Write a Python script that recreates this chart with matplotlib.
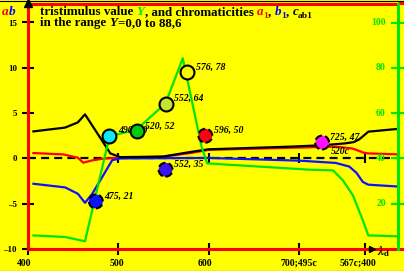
import matplotlib
matplotlib.use('Agg')
import matplotlib.pyplot as plt
from matplotlib.transforms import ScaledTranslation, IdentityTransform, blended_transform_factory
from matplotlib.lines import Line2D

plt.rcParams['font.family'] = ['Liberation Serif', 'DejaVu Serif']
plt.rcParams['font.weight'] = 'bold'
plt.rcParams['mathtext.fontset'] = 'stix'

# chroma c_ab1 (black)
wl_c = [406, 441, 455, 463, 491, 502, 549, 579, 599, 690, 725, 750, 760, 766, 772, 776, 808]
c_ab = [2.98, 3.4, 3.97, 4.86, 0.55, 0.14, 0.2, 0.7, 1.0, 1.3, 1.45, 1.65, 1.8, 2.1, 2.6, 2.95, 3.25]
# chromaticity a1 (red)
wl_a = [406, 439, 455, 461, 471, 483, 496, 550, 580, 600, 700, 740, 758, 764, 770, 776, 808]
a1 = [0.59, 0.44, 0.08, -0.47, -0.22, -0.03, 0.05, 0.2, 0.6, 0.95, 1.2, 1.3, 1.1, 0.9, 0.65, 0.55, 0.45]
# chromaticity b1 (blue)
wl_b = [406, 441, 455, 463, 471, 480, 493, 502, 600, 700, 740, 755, 763, 770, 776, 808]
b1 = [-2.8, -3.2, -3.9, -4.9, -3.9, -2.4, -0.2, 0.0, 0.05, -0.25, -0.5, -0.9, -1.6, -2.6, -2.9, -3.1]
# tristimulus value Y (green, right axis)
wl_Y = [406, 441, 463, 490, 520, 552, 571, 592, 598, 712, 737, 748, 759, 770, 776, 808]
Y = [6.0, 5.3, 3.4, 49.7, 52.8, 64.3, 84.2, 44.9, 37.8, 35.0, 34.7, 30.3, 23.7, 12.6, 6.0, 5.6]

# marked colours
pt_wl = [475, 490, 520, 552, 576, 596, 725, 552]
pt_Y = [21, 50, 52, 64, 78, 50, 47, 35]
pt_col = ['#0a14ff', '#10e8f8', '#00cc10', '#c4e632', '#f8f800', '#ff0010', '#ff10ff', '#3c14f0']
pt_dash = [True, False, False, False, False, True, True, True]
pt_lab = ['475, 21', '490, 50', '520, 52', '552, 64', '576, 78', '596, 50', '725, 47', '552, 35']

xticks = [400, 500, 600, 700, 772]
xlabels = ['400', '500', '600', '700;495c', '567c;400']
yticks = [-10, -5, 0, 5, 10, 15]
ylabels = ['\u201310', '\u20135', '0', '5', '10', '15']
y2ticks = [20, 40, 60, 80, 100]

W, H = 404, 271
BG = '#ffff00'
RED = '#ff0000'
GREEN = '#00e400'

fig = plt.figure(figsize=(W / 100, H / 100), dpi=100, facecolor=BG)
ax = fig.add_axes([28 / W, 22 / H, 370 / W, 245.5 / H])
ax.set_facecolor(BG)
xmax = 400 + 370 / 0.905
ymax = -10 + 245.5 / 9.06
ax.set_xlim(400, xmax)
ax.set_ylim(-10, ymax)

for s in ['left', 'bottom', 'top']:
    ax.spines[s].set_color(RED)
    ax.spines[s].set_linewidth(2.2)
ax.spines['right'].set_visible(False)
# extend red base and top lines to the edge
ax.plot([xmax, xmax + 8], [-10, -10], color=RED, lw=2.2, clip_on=False, solid_capstyle='butt')
ax.plot([xmax, xmax + 8], [ymax, ymax], color=RED, lw=2.2, clip_on=False, solid_capstyle='butt')

ax.set_xticks(xticks)
ax.set_xticklabels(xlabels)
ax.set_yticks(yticks)
ax.set_yticklabels(ylabels)
ax.tick_params(axis='x', direction='inout', length=8, width=1.5, color='k', pad=3, labelsize=7)
ax.tick_params(axis='y', direction='inout', length=9, width=1.5, color='k', pad=3.5, labelsize=6.5)
for lbl, dx in zip(ax.get_xticklabels(), [-4, -2, -4, -1, -7]):
    lbl.set_transform(lbl.get_transform() + ScaledTranslation(dx / 100, 0, fig.dpi_scale_trans))

# right axis for Y, drawn above the left one
ax2 = ax.twinx()
ax.set_zorder(1)
ax2.set_zorder(2)
ax2.patch.set_visible(False)
ax2.set_ylim(40 + 4 * -10, 40 + 4 * ymax)
for s in ['left', 'bottom', 'top']:
    ax2.spines[s].set_visible(False)
ax2.spines['right'].set_color(GREEN)
ax2.spines['right'].set_linewidth(2.2)
ax2.set_yticks(y2ticks)
ax2.tick_params(axis='y', direction='inout', length=10, width=1.5, color=GREEN, labelright=False)
tr = blended_transform_factory(ax2.transAxes, ax2.transData)
for v in y2ticks:
    ax2.text(0.967, v, str(v), transform=tr, ha='right', va='center', color=GREEN, fontsize=7)

# zero line with tick marks
ax.axhline(0, color='k', lw=1.6, ls=(0, (3.6, 2.3)), zorder=1.5)
ax.plot(xticks[1:], [0] * 4, ls='none', marker='|', ms=7.5, mew=1.5, color='k', zorder=1.6)

# curves
ax.plot(wl_a, a1, color=RED, lw=1.6, zorder=2)
ax.plot(wl_b, b1, color='#1010ff', lw=1.6, zorder=2.1)
ax.plot(wl_c, c_ab, color='k', lw=1.6, zorder=2.2)
ax2.plot(wl_Y, Y, color=GREEN, lw=1.6, zorder=2)

# circles
for w, yv, col, d, lab in zip(pt_wl, pt_Y, pt_col, pt_dash, pt_lab):
    ax2.scatter([w], [yv], s=100, color=col, edgecolors='k', linewidths=1.5,
                linestyle='--' if d else '-', zorder=5)
    ax2.annotate(lab, (w, yv), xytext=(6, 2), textcoords='offset points', va='baseline',
                 ha='left', fontsize=7, style='italic', zorder=4)
ax2.annotate('520c', (725, 47), xytext=(6, -8.5), textcoords='offset points',
             va='baseline', ha='left', fontsize=7, style='italic', zorder=4)

# axis arrows
ax.plot([400], [ymax], marker='^', ms=6, color='k', clip_on=False, zorder=6)
ax.plot([780], [-10], marker='>', ms=5, color='k', clip_on=False, zorder=6)
ax.text(786, -10.3, r'$\lambda_\mathrm{d}$', fontsize=9, va='center', ha='left')


def rich(x, y, parts):
    r = fig.canvas.get_renderer()
    for s, col, st, size, dy in parts:
        t = fig.text(x, y + dy, s, color=col, style=st, fontsize=size, weight='bold',
                     transform=IdentityTransform(), va='baseline')
        x += t.get_window_extent(r).width


TS = 9.4
rich(40, H - 15, [('tristimulus value\u00a0', 'k', 'normal', TS, 0),
                  ('Y', GREEN, 'italic', TS, 0),
                  (', and chromaticities\u00a0', 'k', 'normal', TS, 0),
                  ('a', RED, 'italic', TS, 0),
                  ('1', RED, 'normal', 6.8, -3),
                  (',\u00a0', 'k', 'normal', TS, 0),
                  ('b', '#0000ff', 'italic', TS, 0),
                  ('1', '#0000ff', 'normal', 6.8, -3),
                  (',\u00a0', 'k', 'normal', TS, 0),
                  ('c', 'k', 'italic', TS, 0),
                  ('ab1', 'k', 'normal', 6.8, -3)])
rich(40, H - 26, [('in the range\u00a0', 'k', 'normal', TS, 0),
                  ('Y', 'k', 'italic', TS, 0),
                  ('=0,0 to 88,6', 'k', 'normal', TS, 0)])
rich(2, H - 15, [('a', RED, 'italic', 9.5, 0), ('b', '#0000ff', 'italic', 9.5, 0)])

fig.add_artist(Line2D([0, 1], [1 - 0.5 / H, 1 - 0.5 / H], color='k', lw=0.8))
fig.add_artist(Line2D([0, 1], [0.5 / H, 0.5 / H], color='k', lw=0.8))

fig.savefig('out.png', dpi=100, facecolor=BG)
